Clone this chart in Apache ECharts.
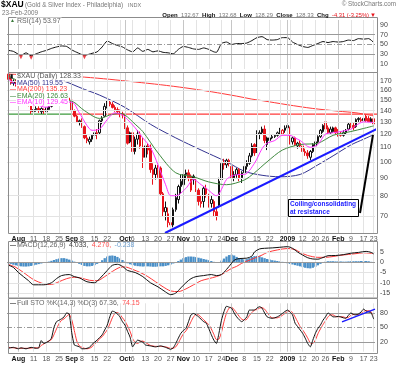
<!DOCTYPE html>
<html>
<head>
<meta charset="utf-8">
<script src="https://cdn.jsdelivr.net/npm/echarts@6/dist/echarts.min.js"></script>
<style>html,body{margin:0;padding:0;background:#fff;}#c{width:400px;height:365px;}</style>
</head>
<body>
<div id="c"></div>
<script>
// ---------- DATA ----------
const dates = [
'2008-07-28','2008-07-29','2008-07-30','2008-07-31',
'2008-08-01','2008-08-04','2008-08-05','2008-08-06','2008-08-07','2008-08-08','2008-08-11','2008-08-12','2008-08-13','2008-08-14','2008-08-15','2008-08-18','2008-08-19','2008-08-20','2008-08-21','2008-08-22','2008-08-25','2008-08-26','2008-08-27','2008-08-28','2008-08-29',
'2008-09-02','2008-09-03','2008-09-04','2008-09-05','2008-09-08','2008-09-09','2008-09-10','2008-09-11','2008-09-12','2008-09-15','2008-09-16','2008-09-17','2008-09-18','2008-09-19','2008-09-22','2008-09-23','2008-09-24','2008-09-25','2008-09-26','2008-09-29','2008-09-30',
'2008-10-01','2008-10-02','2008-10-03','2008-10-06','2008-10-07','2008-10-08','2008-10-09','2008-10-10','2008-10-13','2008-10-14','2008-10-15','2008-10-16','2008-10-17','2008-10-20','2008-10-21','2008-10-22','2008-10-23','2008-10-24','2008-10-27','2008-10-28','2008-10-29','2008-10-30','2008-10-31',
'2008-11-03','2008-11-04','2008-11-05','2008-11-06','2008-11-07','2008-11-10','2008-11-11','2008-11-12','2008-11-13','2008-11-14','2008-11-17','2008-11-18','2008-11-19','2008-11-20','2008-11-21','2008-11-24','2008-11-25','2008-11-26','2008-11-28',
'2008-12-01','2008-12-02','2008-12-03','2008-12-04','2008-12-05','2008-12-08','2008-12-09','2008-12-10','2008-12-11','2008-12-12','2008-12-15','2008-12-16','2008-12-17','2008-12-18','2008-12-19','2008-12-22','2008-12-23','2008-12-24','2008-12-26','2008-12-29','2008-12-30','2008-12-31',
'2009-01-02','2009-01-05','2009-01-06','2009-01-07','2009-01-08','2009-01-09','2009-01-12','2009-01-13','2009-01-14','2009-01-15','2009-01-16','2009-01-20','2009-01-21','2009-01-22','2009-01-23','2009-01-26','2009-01-27','2009-01-28','2009-01-29','2009-01-30',
'2009-02-02','2009-02-03','2009-02-04','2009-02-05','2009-02-06','2009-02-09','2009-02-10','2009-02-11','2009-02-12','2009-02-13','2009-02-17','2009-02-18','2009-02-19','2009-02-20','2009-02-23'];

// [open, close, low, high]
const ohlc = [
[178,172,170,179],[172,168,166,174],[168,170,165,172],[170,166,164,172],[166,160,158,167],
[160,154,152,161],[154,147,146,156],[147,149,145,151],[149,146,144,151],[146,139,137,147],
[139,141,137,143],[141,142,139,144],[142,140,138,144],[139,142,137,143],[140,141,137,142],
[139,143,138,144],[141,144,140,146],[144,148,143,149],[148,152,147,153],[151,150,148,153],
[150,151,149,153],[151,153,150,155],[153,155,151,156],[155,152,151,156],[152,150,148,154],
[150,140,139,151],[140,135,134,141],[135,130,129,136],[130,131,127,132],[131,126,125,133],
[126,117,116,127],[117,115,113,120],[114,116,112,118],[116,119,114,120],[119,121,117,124],
[121,120,116,124],[121,131,120,132],[131,133,128,135],[135,144,134,147],[144,148,142,150],
[148,146,144,150],[146,143,142,148],[143,141,139,145],[141,139,137,143],[139,137,134,141],
[137,136,133,139],[135,125,124,136],[125,113,112,127],[114,121,113,122],[121,107,98,122],
[107,116,105,118],[116,120,112,123],[120,111,109,122],[110,103,96,117],[103,111,100,113],
[111,108,105,113],[110,95,93,112],[95,92,86,99],[92,96,89,98],[96,95,90,98],
[96,81,80,97],[81,72,70,82],[72,74,68,77],[71,67,65,74],[67,66,64.5,70],
[66,73,65,74],[73,79,72,81],[78,85,76,86],[85,88,81,92],[86,92,84,94],
[92,93,89,95],[93,90,88,95],[91,83,82,92],[91,89,86,92],[89,84,82,90],
[83,77,75,84],[77,76,74,80],[77,84,74,85],[84,81,79,86],[80,76,74,81],
[76,78,74,80],[77,72,70,78],[72,70,68,74],[75,88,74,90],[89,99,88,101],
[99,98,95,102],[98,101,96,102],[101,99,97,102],[97,90,89,98],[90,92,88,94],
[92,95,90,96],[95,90,88,96],[90,93,87,94],[93,97,92,99],[97,99,95,101],
[99,104,98,106],[104,111,103,113],[112,106,104,113],[107,121,106,123],[120,121,116,123],
[121,124,120,126],[124,115,113,127],[112,117,108,118],[115,117,114,119],[117,118,116,120],
[118,119,117,120],[119,121,118,122],[121,124,120,125],[120,123,119,124],[123,125,121,127],
[125,127,124,129],[125,114,112,126],[114,117,112,118],[117,112,111,118],[111,113,109,114],
[113,111,110,115],[111,107,106,112],[107,106,104,109],[106,104,102,108],[103,107,101,108],
[107,112,106,113],[111,114,110,116],[114,118,113,119],[118,123,117,124],[122,127,121,128],
[130,124,122,132],[125,121,120,127],[121,124,120,126],[122,125,121,126],[125,121,120,126],
[122,120,118,124],[120,119,118,122],[119,121,118,123],[121,123,120,124],[124,128,123,129],
[128,127,125,129],[127,125,123,129],[126,132,125,133],[132,133,130,134],[132,131,130,134],
[131,133,129,134],[135,131,130,136],[133,130,129,135],[130,132.64,129,134],[132.67,128.33,128.29,132.68]];

const ma50 = [[0,186],[10,180],[21,171],[30,161],[36,155],[46,143],[56,128],[66,117],[76,108],[86,100],[93,94],[100,91.5],[107,90.6],[115,92],[122,98],[128,104],[135,111.7],[140,116],[144,119.55]];
const ma200 = [[0,178],[10,177],[22,176],[30,174.5],[40,172],[50,169],[60,166],[70,162.5],[80,158.5],[90,154],[96,151],[100,149.5],[110,145.5],[120,142],[130,139.5],[137,138],[144,135.23]];
const ema20 = [[0,176],[5,168],[10,157],[15,151],[20,150],[25,149],[30,140],[36,133],[40,136],[44,137.5],[46,136],[50,128],[53,122],[59,106],[66,93],[73,90.6],[79,87.6],[86,86],[93,88.7],[97,93],[102,100],[108,108],[115,112],[122,113],[128,119],[135,122],[140,124.5],[144,126.63]];
const ema10 = [[0,172],[5,162],[10,148],[15,143],[20,148],[25,148],[28,138],[31,127],[33,123],[36,124],[39,132],[42,138],[45,136],[47,132],[50,125],[53,117],[56,110],[59,98],[62,86],[64,80],[66,80],[70,84],[73,89],[76,86],[78,84],[82,80],[86,89],[88,91],[91,92],[93,92],[97,99],[100,109],[102,113],[105,115],[108,119],[111,119],[113,117],[115,115],[119,110],[122,112],[125,120],[128,121],[131,122],[135,124],[137,127],[140,130],[144,129.45]];

const rsi = [[0,38],[2,36],[5,28],[7,33],[9,27],[11,31],[13,35],[15,38],[17,42],[19,45],[21,47],[23,46],[25,39],[27,34],[30,28],[33,32],[35,35],[37,45],[39,57],[41,52],[43,48],[45,45],[47,39],[49,35],[51,43],[53,36],[55,40],[57,35],[59,37],[61,34],[63,33],[65,31],[67,40],[69,46],[71,44],[73,41],[75,40],[77,43],[79,40],[81,35],[82,34],[84,52],[86,55],[88,50],[90,52],[92,52],[94,53],[96,58],[98,64],[100,66],[102,60],[104,59],[106,60],[108,64],[110,64],[112,55],[114,50],[116,46],[118,44],[120,48],[122,52],[124,56],[126,54],[128,56],[130,55],[132,56],[134,59],[136,58],[138,62],[140,61],[142,62],[144,53.97]];
const rsiOversold = [[5,28],[9,27],[30,28]];

const macd = [[0,-1.4],[2,-2.5],[4,-5],[8,-9],[10,-11],[14,-11],[17,-10],[19,-8],[21,-6.5],[24,-6],[26,-7],[28,-7.6],[31,-9.5],[34,-10],[36,-8],[39,-4],[41,-1.5],[43,-1],[45,-2],[47,-4],[50,-5],[53,-7],[56,-10],[59,-12],[62,-14.5],[64,-15.8],[66,-15],[68,-12.5],[70,-10],[72,-8],[74,-7],[77,-6.5],[80,-6],[82,-6.5],[84,-6],[86,-3.5],[88,-0.5],[89,1],[91,1.8],[94,2],[96,3],[97,5],[99,6.5],[101,6.8],[104,7],[107,7.3],[110,7.6],[112,6.8],[114,5],[116,3.5],[118,2.2],[120,1.6],[122,1.5],[124,2.3],[126,3.2],[129,3.3],[132,3.7],[135,4.4],[138,4.8],[141,5.3],[143,4.8],[144,4.033]];
const signal = [[0,-1],[3,-2.5],[6,-5],[10,-8.5],[14,-10.5],[17,-10.8],[20,-9.5],[23,-8],[26,-7.3],[29,-7.8],[32,-8.8],[35,-9],[38,-7],[41,-4.5],[44,-2.5],[46,-2.3],[49,-3.5],[52,-5],[55,-7],[58,-9.5],[61,-12],[64,-14],[67,-14.3],[70,-13],[73,-11],[76,-9],[79,-8],[82,-7],[84,-6],[86,-4.5],[88,-3],[90,-2],[92,-0.5],[94,0.5],[97,2],[100,3.5],[102,4.8],[106,6],[110,6.7],[113,6.2],[115,4.8],[118,3.3],[122,2.4],[125,2.4],[128,2.8],[131,3.4],[134,3.8],[137,4.2],[140,4.6],[144,4.27]];
const hist = [-0.4,-0.8,-1.2,-1.5,-1.8,-2,-2.1,-2.1,-2,-1.8,-1.5,-1.2,-0.9,-0.6,-0.3,0,0.3,0.7,1.1,1.5,1.8,2,2,1.7,1.3,0.8,0.3,
-0.3,-0.8,-1.3,-1.8,-2,-2,-1.8,-1.4,-0.8,0,1,2,2.8,3.2,3.3,3.1,2.6,1.9,1.1,0.3,
-0.5,-1,-1.4,-1.7,-1.9,-2,-2.1,-2,-2,-2.1,-2.2,-2.2,-2.1,-2,-2,-1.8,-1.5,-1.1,-0.6,-0.1,
0.6,1.3,2,2.5,2.8,2.8,2.7,2.5,2.2,1.9,1.6,1.3,1,0.6,0.2,-0.3,-0.1,
0.8,1.8,2.8,3.5,3.7,3.3,2.6,2,1.6,1.4,1.5,2,2.6,3,3.1,2.9,2.4,2,1.6,1.3,1,0.8,0.6,0.4,0.2,
-0.2,-0.5,-0.8,-1.1,-1.4,-1.7,-2,-2.4,-2.7,-2.9,-3,-2.7,-2.2,-1.5,-0.8,
-0.2,0.3,0.5,0.5,0.5,0.4,0.4,0.4,0.3,0.3,0.4,0.5,0.5,0.5,0.5,0.6,0.6,0.6,0.5,0.2,-0.238];

const stoK = [[0,7],[2,9],[4,6],[5,8],[7,6],[9,9],[11,7],[12,8],[13,23],[14,17],[16,22],[17,28],[18,50],[19,62],[20,65],[21,68],[22,72],[23,80],[24,78],[25,40],[26,14],[27,12],[28,10],[29,6],[30,6],[31,7],[32,9],[33,15],[35,24],[37,35],[38,45],[39,55],[40,72],[41,84],[42,82],[43,78],[44,72],[45,62],[46,55],[47,42],[48,30],[49,10],[50,18],[51,24],[52,22],[53,20],[54,14],[56,12],[58,10],[60,12],[62,9],[64,5],[65,8],[66,17],[67,28],[68,38],[69,44],[70,48],[71,62],[72,76],[73,79],[74,76],[75,72],[77,62],[78,59],[79,48],[80,35],[81,24],[82,17],[83,38],[84,65],[85,83],[86,94],[87,92],[88,90],[89,80],[90,72],[91,66],[92,62],[93,66],[94,72],[95,86],[96,86],[97,86],[98,90],[99,93],[100,90],[101,80],[102,72],[103,70],[104,69],[105,70],[106,72],[107,75],[108,79],[109,83],[110,86],[111,82],[112,76],[113,59],[114,52],[115,45],[116,38],[117,28],[118,17],[119,10],[120,24],[121,38],[122,48],[123,55],[124,65],[125,72],[126,80],[127,76],[128,72],[129,72],[130,73],[131,72],[132,70],[133,69],[134,75],[135,80],[136,77],[137,76],[138,78],[139,82],[140,88],[141,84],[142,82],[143,80],[144,67.36]];
const stoD = [[0,9],[2,8],[4,7],[6,7],[8,7],[10,8],[12,8],[13,13],[14,16],[15,20],[16,22],[17,25],[18,35],[19,47],[20,58],[21,65],[22,68],[23,73],[24,77],[25,66],[26,44],[27,22],[28,12],[29,9],[30,7],[31,6],[32,7],[33,10],[34,16],[35,20],[36,27],[37,31],[38,38],[39,45],[40,57],[41,70],[42,79],[43,81],[44,77],[45,70],[46,63],[47,53],[48,42],[49,27],[50,19],[51,17],[52,21],[53,22],[54,19],[55,16],[56,13],[58,11],[60,11],[62,10],[64,7],[65,7],[66,10],[67,18],[68,28],[69,37],[70,43],[71,51],[72,62],[73,72],[74,77],[75,76],[76,71],[77,66],[78,61],[79,56],[80,47],[81,36],[82,25],[83,26],[84,40],[85,62],[86,80],[87,90],[88,92],[89,87],[90,80],[91,73],[92,67],[93,65],[94,67],[95,75],[96,81],[97,86],[98,87],[99,90],[100,91],[101,88],[102,81],[103,74],[104,70],[105,70],[106,70],[107,72],[108,75],[109,79],[110,83],[111,84],[112,81],[113,72],[114,62],[115,52],[116,45],[117,37],[118,28],[119,18],[120,17],[121,24],[122,37],[123,47],[124,56],[125,64],[126,72],[127,76],[128,76],[129,73],[130,72],[131,72],[132,72],[133,70],[134,71],[135,75],[136,77],[137,78],[138,77],[139,79],[140,83],[141,85],[142,85],[143,82],[144,74.15]];

// annotation lines (x = trading-day index, y = value)
const supportLine = [[-0.2,136.8],[25,136.8]];
const resistLine = [[25,136.8],[145.7,136.8]];
const trendLine = [[61.75,62.6],[154.3,133.6]];
const arrowLine = [[138.6,71.4],[143.7,119.3]];
const stoTrend = [[131.5,61.7],[144.5,88]];

// tick labels
const tickDates = ['2008-08-01','2008-08-11','2008-08-18','2008-08-25','2008-09-02','2008-09-08','2008-09-15','2008-09-22','2008-10-01','2008-10-06','2008-10-13','2008-10-20','2008-10-27','2008-11-03','2008-11-10','2008-11-17','2008-11-24','2008-12-01','2008-12-08','2008-12-15','2008-12-22','2009-01-02','2009-01-12','2009-01-20','2009-01-26','2009-02-02','2009-02-09','2009-02-17','2009-02-23'];
const tickTexts = ['Aug','11','18','25','Sep','8','15','22','Oct','6','13','20','27','Nov','10','17','24','Dec','8','15','22','2009','12','20','26','Feb','9','17','23'];
const monthTexts = ['Aug','Sep','Oct','Nov','Dec','2009','Feb'];
const extraGridDates = ['2008-09-29','2008-12-29','2009-01-05'];
const priceTicks = [70,80,90,100,110,120,130,140,150,160,170];
const rsiTicks = [10,30,50,70,90];
const macdTicks = [-15,-10,-5,0,5];
const stoTicks = [20,50,80];

// ---------- CHART ----------
const FONT = '"Liberation Sans", Arial, sans-serif';
const RED = '#e8141c';
const chart = echarts.init(document.getElementById('c'));
const tickMap = new Map(tickDates.map((d,i)=>[d,tickTexts[i]]));
const monthDates = new Set(tickDates.filter((d,i)=>monthTexts.includes(tickTexts[i])));
const vDates = tickDates.concat(extraGridDates);

const L = 7, W = 368;
const grids = [
  {left:L, width:W, top:20, height:49},
  {left:L, width:W, top:73, height:160},
  {left:L, width:W, top:241.75, height:55.35},
  {left:L, width:W, top:303.3, height:48.4}
];

const xAxes = [];
grids.forEach((g,gi)=>{
  const showLab = (gi===1||gi===3);
  xAxes.push({type:'category', gridIndex:gi, data:dates, boundaryGap:true,
    axisLine:{show:false}, axisTick:{show:false}, splitLine:{show:false},
    axisLabel: showLab ? {show:true, interval:(idx,val)=>tickMap.has(val),
      formatter:(val)=>{const t=tickMap.get(val)||''; return monthTexts.includes(t)?'{b|'+t+'}':t;},
      margin: gi===1?3:4, fontSize:7, fontFamily:FONT, color:'#555',
      rich:{b:{fontWeight:'bold', color:'#111', fontSize:7, fontFamily:FONT}}} : {show:false}});
  xAxes.push({type:'value', gridIndex:gi, min:-0.5, max:dates.length-0.5, show:false});
});

function yAx(gi, extra, ticks){
  return Object.assign({gridIndex:gi, position:'right', axisLine:{show:false}, axisTick:{show:false}, splitLine:{show:false},
    axisLabel:{customValues:ticks, fontSize:7, fontFamily:FONT, color:'#444', margin:5, showMinLabel:true, showMaxLabel:true}}, extra);
}
const yAxes = [
  yAx(0,{type:'value', min:0, max:100}, rsiTicks),
  yAx(1,{type:'log', logBase:10, min:62.6, max:179.3}, priceTicks),
  yAx(2,{type:'value', min:-17, max:10}, macdTicks),
  yAx(3,{type:'value', min:0, max:100}, stoTicks)
];

function gridLines(gi, hLines){
  const data = [];
  vDates.forEach(d=>data.push({xAxis:d, lineStyle:{color: monthDates.has(d)?'#c6c6c6':'#e3e3e3', width:1, type:'solid'}}));
  hLines.forEach(h=>data.push({yAxis:h[0], lineStyle:h[1]}));
  return {type:'line', xAxisIndex:2*gi, yAxisIndex:gi, data:[], silent:true, z:1, animation:false,
    markLine:{silent:true, symbol:['none','none'], label:{show:false}, animation:false, data}};
}
const light = {color:'#e3e3e3', width:1, type:'solid'};
const mid = {color:'#9a9a9a', width:1, type:'solid'};
const dashdot = {color:'#9a9a9a', width:1, type:[5,2,1,2]};

function ln(gi, data, color, w, z, extra){
  return Object.assign({type:'line', xAxisIndex:2*gi+1, yAxisIndex:gi, data, symbol:'none', smooth:0.3,
    lineStyle:{color, width:w||1}, z:z||4, silent:true, animation:false}, extra||{});
}
function seg(gi, data, color, w, z){
  return ln(gi, data, color, w, z||8, {smooth:false, clip:false});
}

const candleData = ohlc.map((d,i)=>{
  const o=d[0], c=d[1], prev = i>0 ? ohlc[i-1][1] : o;
  const up = c>=o, red = c<prev;
  const edge = red ? RED : '#111';
  const fill = up ? '#fff' : edge;
  return {value:d, itemStyle:{color:fill, color0:fill, borderColor:edge, borderColor0:edge, borderWidth:1}};
});

const series = [
  gridLines(0, [[70,mid],[30,mid],[50,dashdot]]),
  gridLines(1, priceTicks.map(v=>[v,light])),
  gridLines(2, [[5,light],[-5,light],[-10,light],[-15,light],[0,mid]]),
  gridLines(3, [[80,mid],[20,mid],[50,dashdot]]),
  // RSI
  ln(0, rsi, '#111', 1, 4, {smooth:0.2}),
  {type:'scatter', xAxisIndex:1, yAxisIndex:0, data:rsiOversold.map(p=>[p[0],p[1]-4]), symbol:'triangle', symbolRotate:180, symbolSize:4, itemStyle:{color:RED}, silent:true, z:5, animation:false},
  // main
  ln(1, ma200, '#ff3a3a', 1, 3),
  ln(1, ma50, '#33338f', 1, 3),
  seg(1, supportLine, '#3c9a3c', 1.3, 3),
  seg(1, resistLine, '#ff3a3a', 1.3, 3),
  {type:'candlestick', xAxisIndex:2, yAxisIndex:1, data:candleData, barWidth:2, z:4, silent:true, animation:false},
  ln(1, ema20, '#3f8a3f', 1, 5),
  ln(1, ema10, '#ff33ff', 1, 5),
  seg(1, trendLine, '#1a1aff', 2, 9),
  seg(1, arrowLine, '#000', 2, 9),
  // MACD
  {type:'bar', xAxisIndex:4, yAxisIndex:2, data:hist, barCategoryGap:'10%', itemStyle:{color:'#4a8fc7'}, silent:true, z:2, animation:false},
  ln(2, macd, '#111', 1, 5),
  ln(2, signal, '#ff3a3a', 1, 4),
  // STO
  ln(3, stoD, '#ff3a3a', 1, 4, {smooth:0.2}),
  ln(3, stoK, '#111', 1, 5, {smooth:0.2}),
  seg(3, stoTrend, '#1a1aff', 1.5, 8)
];

function txt(x,y,text,st,z){
  return {type:'text', silent:true, z:z||100, style:Object.assign({x:x,y:y,text:text,font:'7px '+FONT,fill:'#555',verticalAlign:'middle',align:'left'}, st||{})};
}
function frame(x,y,w,h){ return {type:'rect', silent:true, z:60, shape:{x:x,y:y,width:w,height:h}, style:{fill:null, stroke:'#8c8c8c', lineWidth:1}}; }

const graphics = [
  frame(8.5,17.5,369,55), frame(8.5,72.5,369,161), frame(8.5,241.5,369,56.5), frame(8.5,298.5,369,55),
  // header
  txt(1,5,'$XAU',{font:'bold 8.5px '+FONT, fill:'#000'}),
  txt(25,5,'(Gold & Silver Index - Philadelphia)',{font:'6.3px '+FONT, fill:'#777'}),
  txt(128,5,'INDX',{font:'5.5px '+FONT, fill:'#777'}),
  txt(2,13.5,'23-Feb-2009',{font:'6.3px '+FONT, fill:'#777'}),
  txt(396,4.5,'\u00a9 StockCharts.com',{font:'6.3px '+FONT, fill:'#777', align:'right'}),
  {type:'text', silent:true, z:100, style:{x:369, y:15, align:'right', verticalAlign:'middle',
    text:'{b|Open} {v|132.67} {b|High} {v|132.68} {b|Low} {v|128.29} {b|Close} {v|128.33} {b|Chg} {r|-4.31 (-3.25%)}',
    rich:{b:{font:'bold 6px '+FONT, fill:'#111'}, v:{font:'5.8px '+FONT, fill:'#777'}, r:{font:'5.8px '+FONT, fill:RED}}}},
  txt(370,15,'\u25bc',{font:'6px '+FONT, fill:RED}),
  // RSI legend
  txt(10,21,'\u25b2',{font:'5px '+FONT, fill:'#3a7a3a'}),
  txt(16,21,'RSI(14) 53.97',{font:'7px '+FONT, fill:'#666', backgroundColor:'#fff', padding:[0,1]}),
  // main legend
  txt(10,76.5,'\u25ae',{font:'6px '+FONT, fill:'#111'}),
  txt(16,76.5,'$XAU (Daily) 128.33',{font:'7px '+FONT, fill:'#555', backgroundColor:'#fff', padding:[0,1]}),
  txt(10,83,'\u2014',{font:'bold 6px '+FONT, fill:'#33338f'}),
  txt(16,83,'MA(50) 119.55',{font:'7px '+FONT, fill:'#33338f', backgroundColor:'#fff', padding:[0,1]}),
  txt(10,89.5,'\u2014',{font:'bold 6px '+FONT, fill:'#ff3a3a'}),
  txt(16,89.5,'MA(200) 135.23',{font:'7px '+FONT, fill:'#ff3a3a', backgroundColor:'#fff', padding:[0,1]}),
  txt(10,96,'\u2014',{font:'bold 6px '+FONT, fill:'#3f8a3f'}),
  txt(16,96,'EMA(20) 126.63',{font:'7px '+FONT, fill:'#3f8a3f', backgroundColor:'#fff', padding:[0,1]}),
  txt(10,102.5,'\u2014',{font:'bold 6px '+FONT, fill:'#ff33ff'}),
  txt(16,102.5,'EMA(10) 129.45',{font:'7px '+FONT, fill:'#ff33ff', backgroundColor:'#fff', padding:[0,1]}),
  // annotation box
  {type:'rect', silent:true, z:110, shape:{x:288.5,y:199.5,width:70,height:17}, style:{fill:'#fff', stroke:'#000', lineWidth:1}},
  txt(290,204,'Coiling/consolidating',{font:'bold 6.5px '+FONT, fill:'#1a1aff'},111),
  txt(290,212,'at resistance',{font:'bold 6.5px '+FONT, fill:'#1a1aff'},111),
  // MACD legend
  txt(10,245,'\u2014',{font:'bold 6px '+FONT, fill:'#111'}),
  {type:'text', silent:true, z:100, style:{x:17, y:245, verticalAlign:'middle', text:'{g|MACD(12,26,9)} {k|4.033,} {r|4.270,} {b|-0.238}',
    rich:{g:{font:'7px '+FONT, fill:'#666'}, k:{font:'7px '+FONT, fill:'#444'}, r:{font:'7px '+FONT, fill:'#ff5050'}, b:{font:'7px '+FONT, fill:'#6fa0d0'}}}},
  // STO legend
  txt(10,303,'\u2014',{font:'bold 6px '+FONT, fill:'#111'}),
  {type:'text', silent:true, z:100, style:{x:17, y:303, verticalAlign:'middle', text:'{g|Full STO %K(14,3) %D(3) 67.36,} {r|74.15}',
    rich:{g:{font:'7px '+FONT, fill:'#666'}, r:{font:'7px '+FONT, fill:'#ff5050'}}}}
];

chart.setOption({
  animation:false,
  backgroundColor:'#fff',
  grid:grids,
  xAxis:xAxes,
  yAxis:yAxes,
  series:series,
  graphic:graphics
});
</script>
</body>
</html>
